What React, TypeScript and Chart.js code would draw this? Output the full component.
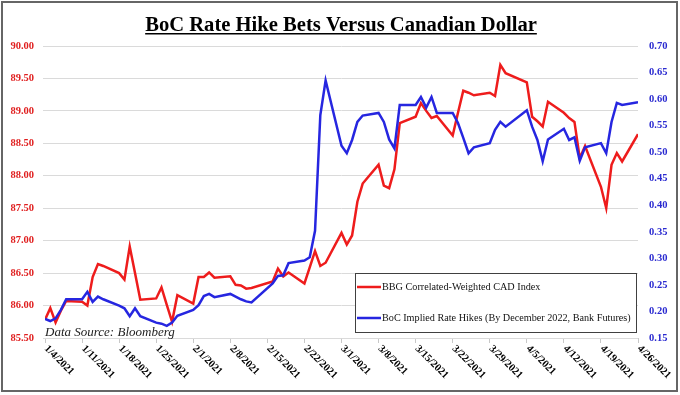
import React, { useEffect, useRef } from "react";
import { Chart, registerables } from "chart.js";

Chart.register(...registerables);

const chartTitle = "BoC Rate Hike Bets Versus Canadian Dollar";
const sourceNote = "Data Source: Bloomberg";
const seriesNames = [
  "BBG Correlated-Weighted CAD Index",
  "BoC Implied Rate Hikes (By December 2022, Bank Futures)",
];

const xTickLabels = [
  "1/4/2021", "1/11/2021", "1/18/2021", "1/25/2021", "2/1/2021", "2/8/2021",
  "2/15/2021", "2/22/2021", "3/1/2021", "3/8/2021", "3/15/2021", "3/22/2021",
  "3/29/2021", "4/5/2021", "4/12/2021", "4/19/2021", "4/26/2021",
];

const dates = [
  "2021-01-04", "2021-01-05", "2021-01-06", "2021-01-07", "2021-01-08",
  "2021-01-11", "2021-01-12", "2021-01-13", "2021-01-14", "2021-01-15",
  "2021-01-18", "2021-01-19", "2021-01-20", "2021-01-21", "2021-01-22",
  "2021-01-25", "2021-01-26", "2021-01-27", "2021-01-28", "2021-01-29",
  "2021-02-01", "2021-02-02", "2021-02-03", "2021-02-04", "2021-02-05",
  "2021-02-08", "2021-02-09", "2021-02-10", "2021-02-11", "2021-02-12",
  "2021-02-16", "2021-02-17", "2021-02-18", "2021-02-19",
  "2021-02-22", "2021-02-23", "2021-02-24", "2021-02-25", "2021-02-26",
  "2021-03-01", "2021-03-02", "2021-03-03", "2021-03-04", "2021-03-05",
  "2021-03-08", "2021-03-09", "2021-03-10", "2021-03-11", "2021-03-12",
  "2021-03-15", "2021-03-16", "2021-03-17", "2021-03-18", "2021-03-19",
  "2021-03-22", "2021-03-23", "2021-03-24", "2021-03-25", "2021-03-26",
  "2021-03-29", "2021-03-30", "2021-03-31", "2021-04-01",
  "2021-04-05", "2021-04-06", "2021-04-07", "2021-04-08", "2021-04-09",
  "2021-04-12", "2021-04-13", "2021-04-14", "2021-04-15", "2021-04-16",
  "2021-04-19", "2021-04-20", "2021-04-21", "2021-04-22", "2021-04-23",
  "2021-04-26",
];

const cadIndex = [
  85.78, 85.96, 85.74, 85.92, 86.07,
  86.06, 86.0, 86.44, 86.64, 86.61,
  86.5, 86.4, 86.91, 86.5, 86.09,
  86.11, 86.28, 86.01, 85.75, 86.16,
  86.03, 86.44, 86.44, 86.51, 86.43,
  86.45, 86.32, 86.31, 86.26, 86.27,
  86.37, 86.57, 86.45, 86.51,
  86.34, 86.59, 86.84, 86.61, 86.66,
  87.12, 86.94, 87.08, 87.6, 87.88,
  88.17, 87.85, 87.81, 88.1, 88.81,
  88.91, 89.12, 89.0, 88.89, 88.92,
  88.62, 88.97, 89.31, 89.28, 89.24,
  89.28, 89.23, 89.71, 89.58,
  89.44, 88.91, 88.84, 88.76, 89.14,
  88.97, 88.89, 88.83, 88.27, 88.46,
  87.83, 87.5, 88.17, 88.35, 88.22,
  88.64,
];

const rateHikes = [
  0.186, 0.182, 0.187, 0.203, 0.223,
  0.223, 0.237, 0.218, 0.228, 0.223,
  0.211, 0.206, 0.191, 0.206, 0.191,
  0.179, 0.177, 0.173, 0.179, 0.192,
  0.203, 0.212, 0.229, 0.233, 0.227,
  0.233, 0.228, 0.223, 0.219, 0.217,
  0.253, 0.267, 0.268, 0.291,
  0.296, 0.302, 0.352, 0.57, 0.635,
  0.512, 0.498, 0.523, 0.557, 0.569,
  0.574, 0.557, 0.524, 0.507, 0.589,
  0.589, 0.604, 0.584, 0.604, 0.574,
  0.574, 0.555, 0.527, 0.498, 0.509,
  0.517, 0.542, 0.557, 0.548,
  0.579, 0.548, 0.523, 0.483, 0.524,
  0.544, 0.523, 0.528, 0.484, 0.509,
  0.517, 0.498, 0.557, 0.593, 0.589,
  0.594,
];

const DAY_MS = 86400000;
const t0 = Date.parse(dates[0]);
const dayIndex = dates.map((d) => Math.round((Date.parse(d) - t0) / DAY_MS));
const lastDay = 112;

const RED = "#ee1c1c";
const BLUE = "#2626e0";
const RED_TXT = "#e01e1e";
const BLUE_TXT = "#2a2ad0";
const SERIF = "'Liberation Serif', 'Times New Roman', serif";

export default function App() {
  const ref = useRef<HTMLCanvasElement>(null);

  useEffect(() => {
    const canvas = ref.current!;
    const decor = {
      id: "decor",
      beforeDraw(chart: any) {
        const ctx = chart.ctx;
        ctx.save();
        ctx.fillStyle = "#ffffff";
        ctx.fillRect(0, 0, chart.width, chart.height);
        ctx.restore();
      },
      afterDraw(chart: any) {
        const ctx = chart.ctx;
        const xs = chart.scales.x;
        const area = chart.chartArea;
        ctx.save();
        // title
        ctx.font = `bold 20.6px ${SERIF}`;
        ctx.fillStyle = "#000";
        ctx.textAlign = "center";
        ctx.textBaseline = "alphabetic";
        const cx = 341;
        ctx.fillText(chartTitle, cx, 31);
        const tw = ctx.measureText(chartTitle).width;
        ctx.fillRect(cx - tw / 2, 33, tw, 1.5);

        // x tick labels rotated clockwise
        ctx.font = `bold 10.5px ${SERIF}`;
        ctx.textAlign = "left";
        ctx.textBaseline = "middle";
        xTickLabels.forEach((lab, i) => {
          const px = xs.getPixelForValue(i * 7);
          ctx.save();
          ctx.translate(px + 1, area.bottom + 9);
          ctx.rotate(Math.PI / 4);
          ctx.fillText(lab, 0, 0);
          ctx.restore();
        });

        // source note
        ctx.font = `italic 13px ${SERIF}`;
        ctx.textAlign = "left";
        ctx.textBaseline = "alphabetic";
        ctx.fillStyle = "#222";
        ctx.fillText(sourceNote, 45, 336);

        // legend box
        const bx = 355, by = 273, bw = 281, bh = 59;
        ctx.fillStyle = "#fff";
        ctx.fillRect(bx, by, bw, bh);
        ctx.strokeStyle = "#404040";
        ctx.lineWidth = 1;
        ctx.strokeRect(bx + 0.5, by + 0.5, bw, bh);
        const entries = [
          { name: seriesNames[0], color: RED, y: 287 },
          { name: seriesNames[1], color: BLUE, y: 318 },
        ];
        ctx.font = `10.2px ${SERIF}`;
        ctx.textBaseline = "middle";
        entries.forEach((e) => {
          ctx.strokeStyle = e.color;
          ctx.lineWidth = 2.5;
          ctx.beginPath();
          ctx.moveTo(357, e.y);
          ctx.lineTo(381, e.y);
          ctx.stroke();
          ctx.fillStyle = "#111";
          ctx.fillText(e.name, 382, e.y);
        });

        // outer frame
        ctx.strokeStyle = "#666";
        ctx.lineWidth = 2;
        ctx.strokeRect(2, 2, 675, 389);
        ctx.restore();
      },
    };

    const chart = new Chart(canvas, {
      type: "line",
      data: {
        datasets: [
          {
            label: seriesNames[1],
            data: dayIndex.map((x, i) => ({ x, y: rateHikes[i] })),
            yAxisID: "y1",
            borderColor: BLUE,
            backgroundColor: BLUE,
            borderWidth: 2.5,
            pointRadius: 0,
            tension: 0,
          },
          {
            label: seriesNames[0],
            data: dayIndex.map((x, i) => ({ x, y: cadIndex[i] })),
            yAxisID: "y",
            borderColor: RED,
            backgroundColor: RED,
            borderWidth: 2.5,
            pointRadius: 0,
            tension: 0,
          },
        ],
      },
      options: {
        animation: false,
        responsive: false,
        layout: { padding: { top: 46, left: 0, right: 0, bottom: 0 } },
        plugins: {
          legend: { display: false },
          tooltip: { enabled: false },
          title: { display: false },
        },
        scales: {
          x: {
            type: "linear",
            min: 0,
            max: lastDay,
            ticks: { stepSize: 7, display: false },
            grid: { drawOnChartArea: false, color: "#c8c8c8", tickLength: 5 },
            border: { display: false },
            afterFit: (s: any) => {
              s.height = 57;
            },
          },
          y: {
            position: "left",
            min: 85.5,
            max: 90,
            ticks: {
              stepSize: 0.5,
              autoSkip: false,
              padding: 9,
              color: RED_TXT,
              font: { family: SERIF, size: 10.5, weight: "bold" },
              callback: (v: any) => Number(v).toFixed(2),
            },
            grid: { color: "#dadada", tickLength: 2 },
            border: { display: false },
            afterFit: (s: any) => {
              s.width = 45;
            },
          },
          y1: {
            position: "right",
            min: 0.15,
            max: 0.7,
            ticks: {
              stepSize: 0.05,
              autoSkip: false,
              padding: 11,
              color: BLUE_TXT,
              font: { family: SERIF, size: 10.5, weight: "bold" },
              callback: (v: any) => Number(v).toFixed(2),
            },
            grid: { display: false, drawTicks: false, tickLength: 0 },
            border: { display: false },
            afterFit: (s: any) => {
              s.width = 42;
            },
          },
        },
      },
      plugins: [decor],
    } as any);
    return () => chart.destroy();
  }, []);

  return (
    <div style={{ position: "fixed", left: 0, top: 0, width: 680, height: 395 }}>
      <canvas ref={ref} width={680} height={395} style={{ display: "block" }} />
    </div>
  );
}
